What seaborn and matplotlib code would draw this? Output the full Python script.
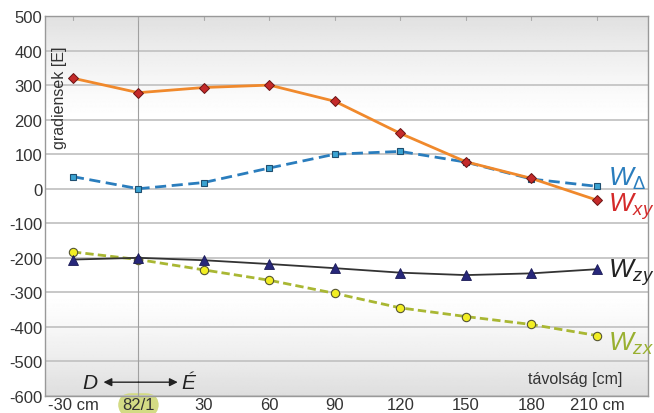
import numpy as np
import pandas as pd
import seaborn as sns
import matplotlib
matplotlib.use("Agg")
import matplotlib.pyplot as plt

# ---- data ----
positions = [-30, 0, 30, 60, 90, 120, 150, 180, 210]
tick_labels = ["-30 cm", "82/1", "30", "60", "90", "120", "150", "180", "210 cm"]
w_xy = [320, 278, 293, 300, 253, 160, 78, 30, -33]
w_delta = [35, 0, 18, 60, 100, 108, 77, 28, 7]
w_zy = [-205, -200, -207, -218, -230, -243, -250, -245, -233]
w_zx = [-183, -205, -235, -265, -303, -345, -370, -393, -425]
y_ticks = [500, 400, 300, 200, 100, 0, -100, -200, -300, -400, -500, -600]

sns.set_theme(style="white")
plt.rcParams['font.family'] = ['Liberation Sans', 'DejaVu Sans']
plt.rcParams['axes.unicode_minus'] = False
plt.rcParams['mathtext.fontset'] = 'custom'
plt.rcParams['mathtext.it'] = 'Liberation Sans:italic'
plt.rcParams['mathtext.rm'] = 'Liberation Sans'
plt.rcParams['mathtext.bf'] = 'Liberation Sans:bold'

fig = plt.figure(figsize=(6.54, 4.14), dpi=100)
ax = fig.add_axes([45/654, 17/414, 603/654, 380/414])

xlim = (-42.8, 233.4)
ylim = (-600, 500)

# background gradient
yy = np.linspace(500, -600, 400)
shade = np.ones_like(yy)
top = yy > 200
shade[top] = 1.0 - 0.12 * ((yy[top] - 200) / 300) ** 1.3
bot = yy < -300
shade[bot] = 1.0 - 0.13 * ((-300 - yy[bot]) / 300) ** 1.3
img = np.repeat(shade[:, None], 2, axis=1)
ax.imshow(img, cmap="gray", vmin=0, vmax=1, extent=[xlim[0], xlim[1], -600, 500],
          aspect="auto", zorder=0, interpolation="bilinear")

for v in y_ticks:
    ax.axhline(v, color="#c4c4c4", lw=1.3, zorder=1)
ax.axvline(0, color="#a0a0a0", lw=0.8, zorder=1)

df = pd.DataFrame({"x": positions, "xy": w_xy, "d": w_delta, "zy": w_zy, "zx": w_zx})

sns.lineplot(data=df, x="x", y="zx", ax=ax, color="#a9b733", lw=2, ls=(0, (3, 1.5)),
             marker="o", markersize=6, markerfacecolor="#f2ee22", markeredgecolor="#555533",
             markeredgewidth=0.8, zorder=3)
sns.lineplot(data=df, x="x", y="zy", ax=ax, color="#333333", lw=1.3,
             marker="^", markersize=7, markerfacecolor="#27277a", markeredgecolor="#1a1a55",
             markeredgewidth=0.6, zorder=3)
sns.lineplot(data=df, x="x", y="d", ax=ax, color="#2a7dbd", lw=2, ls=(0, (4, 2)),
             marker="s", markersize=5, markerfacecolor="#3aa3d2", markeredgecolor="#1f4f70",
             markeredgewidth=0.8, zorder=3)
sns.lineplot(data=df, x="x", y="xy", ax=ax, color="#f0892c", lw=2,
             marker="D", markersize=5, markerfacecolor="#c42a2a", markeredgecolor="#6a1515",
             markeredgewidth=0.7, zorder=4)

ax.set_xlim(*xlim)
ax.set_ylim(*ylim)
ax.set_xticks(positions)
ax.set_xticklabels(tick_labels)
ax.set_yticks(y_ticks)
ax.set_xlabel("")
ax.set_ylabel("")
ax.tick_params(axis="both", labelsize=12, colors="#333333", length=0, pad=2)
ax.tick_params(axis="x", pad=1)
for lbl in ax.get_xticklabels():
    lbl.set_color("#333333")
    if lbl.get_text() == "82/1":
        lbl.set_bbox(dict(boxstyle="round,pad=0.25,rounding_size=0.8", fc="#d3db84", ec="none"))
for s in ax.spines.values():
    s.set_color("#999999")
    s.set_linewidth(1)

# small ticks at top
for p in positions:
    ax.plot([p, p], [500, 488], color="#aaaaaa", lw=0.8, zorder=2, clip_on=False)

# texts
ax.text(-36, 265, "gradiensek [E]", rotation=90, ha="center", va="center",
        fontsize=11.5, color="#333333", zorder=5)
ax.text(200, -550, "távolság [cm]", ha="center", va="center", fontsize=11.5,
        color="#333333", zorder=5)
ax.text(-22, -560, "D", style="italic", ha="center", va="center", fontsize=15, color="#222222", zorder=5)
ax.text(23, -560, "É", style="italic", ha="center", va="center", fontsize=15, color="#222222", zorder=5)
ax.annotate("", xy=(-16, -560), xytext=(0, -560),
            arrowprops=dict(arrowstyle="-|>", color="#222222", lw=1, mutation_scale=12,
                            shrinkA=0, shrinkB=0), zorder=5)
ax.annotate("", xy=(18, -560), xytext=(0, -560),
            arrowprops=dict(arrowstyle="-|>", color="#222222", lw=1, mutation_scale=12,
                            shrinkA=0, shrinkB=0), zorder=5)

ax.text(215, 30, "$W_{\\Delta}$", fontsize=19, color="#2a7dbd", va="center", ha="left", zorder=5)
ax.text(215, -50, "$W_{xy}$", fontsize=19, color="#d42a2a", va="center", ha="left", zorder=5)
ax.text(215, -240, "$W_{zy}$", fontsize=19, color="#222222", va="center", ha="left", zorder=5)
ax.text(215, -445, "$W_{zx}$", fontsize=19, color="#99b030", va="center", ha="left", zorder=5)

if ax.get_legend():
    ax.get_legend().remove()

fig.savefig("out.png", dpi=100)
